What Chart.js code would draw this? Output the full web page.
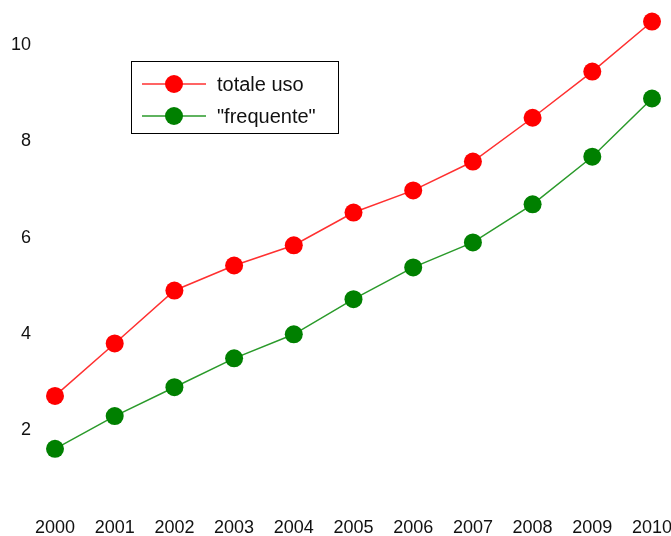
<!DOCTYPE html>
<html>
<head>
<meta charset="utf-8">
<script src="https://cdn.jsdelivr.net/npm/chart.js@4.4.1/dist/chart.umd.min.js"></script>
<style>
  html, body { margin: 0; padding: 0; background: #fff; }
  #wrap { width: 671px; height: 536px; }
</style>
</head>
<body>
<div id="wrap"><canvas id="grafico"></canvas></div>
<script>
// dati
const anni = ['2000', '2001', '2002', '2003', '2004', '2005', '2006', '2007', '2008', '2009', '2010'];
const totaleUso = [2.71, 3.80, 4.90, 5.42, 5.84, 6.52, 6.98, 7.58, 8.49, 9.45, 10.49];
const frequente = [1.61, 2.29, 2.89, 3.49, 3.99, 4.72, 5.38, 5.90, 6.69, 7.68, 8.89];
const yTicks = [2, 4, 6, 8, 10];

const fontBase = 'Liberation Sans, Arial, sans-serif';

// legenda disegnata dentro l'area del grafico
const legendaInterna = {
  id: 'legendaInterna',
  afterDraw(chart) {
    const ctx = chart.ctx;
    ctx.save();
    ctx.strokeStyle = '#000';
    ctx.lineWidth = 1;
    ctx.strokeRect(131.5, 61.5, 207, 72);
    chart.data.datasets.forEach((ds, i) => {
      const y = 84 + i * 32;
      ctx.strokeStyle = ds.borderColor;
      ctx.lineWidth = 1.5;
      ctx.beginPath();
      ctx.moveTo(142, y);
      ctx.lineTo(206, y);
      ctx.stroke();
      ctx.fillStyle = ds.pointBackgroundColor;
      ctx.beginPath();
      ctx.arc(174, y, 9, 0, Math.PI * 2);
      ctx.fill();
      ctx.fillStyle = '#111';
      ctx.font = '20px ' + fontBase;
      ctx.textBaseline = 'middle';
      ctx.fillText(ds.label, 217, y + 1);
    });
    ctx.restore();
  }
};

const ctx = document.getElementById('grafico').getContext('2d');
new Chart(ctx, {
  type: 'line',
  data: {
    labels: anni,
    datasets: [{
      label: 'totale uso',
      data: totaleUso,
      borderColor: '#ff3030',
      borderWidth: 1.5,
      pointBackgroundColor: '#ff0000',
      pointBorderWidth: 0,
      pointRadius: 9,
      tension: 0,
      clip: false
    }, {
      label: '"frequente"',
      data: frequente,
      borderColor: '#2a9a2a',
      borderWidth: 1.5,
      pointBackgroundColor: '#008000',
      pointBorderWidth: 0,
      pointRadius: 9,
      tension: 0,
      clip: false
    }]
  },
  options: {
    responsive: true,
    maintainAspectRatio: false,
    animation: false,
    layout: { padding: { top: 2, right: 19, left: 0, bottom: 0 } },
    plugins: {
      legend: { display: false },
      tooltip: { enabled: false }
    },
    scales: {
      x: {
        offset: false,
        grid: { display: false, drawTicks: false },
        border: { display: false },
        ticks: {
          color: '#111',
          font: { family: fontBase, size: 18 },
          padding: 34,
          maxRotation: 0,
          autoSkip: false
        },
        afterFit(scale) {
          scale.height = 53;
          scale.paddingLeft = 0;
          scale.paddingRight = 0;
        }
      },
      y: {
        min: 0.9,
        max: 10.75,
        grid: { display: false, drawTicks: false },
        border: { display: false },
        ticks: {
          color: '#111',
          font: { family: fontBase, size: 18 },
          padding: 24
        },
        afterBuildTicks(scale) { scale.ticks = yTicks.map(v => ({ value: v })); },
        afterFit(scale) {
          scale.width = 55;
          scale.paddingTop = 0;
          scale.paddingBottom = 0;
        }
      }
    }
  },
  plugins: [legendaInterna]
});
</script>
</body>
</html>
